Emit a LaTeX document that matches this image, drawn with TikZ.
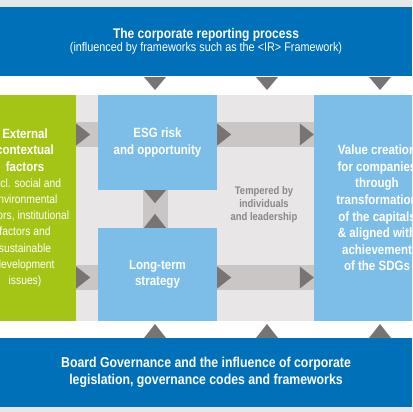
\documentclass[tikz,border=0pt]{standalone}
\usepackage{fontspec}
\setmainfont{Liberation Sans}[FakeStretch=0.86]
\usetikzlibrary{positioning}
\definecolor{irblau}{HTML}{0070B8}
\definecolor{hblau}{HTML}{7DBEE9}
\definecolor{gruen}{HTML}{A5C516}
\definecolor{hgrau}{HTML}{E8E6E6}
\definecolor{bandgrau}{HTML}{CAC6C6}
\definecolor{dgrau}{HTML}{787474}
\definecolor{tgrau}{HTML}{8C8888}
\tikzset{
  banner/.style={fill=irblau,text=white,minimum width=412pt,minimum height=69pt,inner sep=0pt,align=center},
  box/.style={fill=hblau,text=white,inner sep=0pt,align=center,font=\bfseries\fontsize{13.4}{16.6}\selectfont},
  band/.style={bandgrau,line width=25pt},
  tri/.style={fill=dgrau},
  trir/.pic={\fill[tri] (0,-11) -- (14,0) -- (0,11) -- cycle;},
  trid/.pic={\fill[tri] (-11,0) -- (11,0) -- (0,13) -- cycle;},
  triu/.pic={\fill[tri] (-11,0) -- (11,0) -- (0,-14) -- cycle;},
}

\begin{document}
\begin{tikzpicture}[x=1pt,y=-1pt]
  \clip (0,0) rectangle (412,412);
  \fill[hgrau] (0,0) rectangle (412,412);
  \fill[white] (0,7) rectangle (412,407);
  \fill[hgrau] (76,95) rectangle (412,321);
  % banners
  \node[banner] (report) at (206,41.5) {{\bfseries\fontsize{14}{16}\selectfont The corporate reporting process}\\
    \fontsize{12.6}{16}\selectfont (influenced by frameworks such as the <IR> Framework)};
  \node[banner,font=\bfseries\fontsize{14.3}{17}\selectfont] (board) at (206,372.5) {Board Governance and the influence of corporate\\legislation, governance codes and frameworks};
  % boxes
  \node[box,fill=gruen,minimum width=102pt,minimum height=226pt,font=\fontsize{12}{16.2}\selectfont] (ext) at (25,208)
    {\textbf{\fontsize{13.4}{16.2}\selectfont External}\\\textbf{\fontsize{13.4}{16.2}\selectfont contextual}\\\textbf{\fontsize{13.4}{16.2}\selectfont factors}\\
    (incl. social and\\environmental\\factors, institutional\\factors and\\sustainable\\development\\issues)};
  \node[box,minimum width=119pt,minimum height=95pt] (esg) at (157.5,142.5) {ESG risk\\and opportunity};
  \node[box,minimum width=119pt,minimum height=93pt] (strat) at (157.5,274.5) {Long-term\\strategy};
  \node[box,minimum width=126pt,minimum height=226pt] (value) at (377,208) {Value creation\\for companies\\through\\transformation\\of the capitals\\\& aligned with\\achievement\\of the SDGs};
  \node[font=\bfseries\fontsize{11}{13}\selectfont,text=tgrau,align=center] (temp) at (264,205) {Tempered by\\individuals\\and leadership};
  % bands
  \draw[band] ([yshift=8pt]esg.west -| ext.east) -- ([yshift=8pt]esg.west);
  \draw[band] ([yshift=8pt]esg.east) -- ([yshift=8pt]esg.east -| value.west);
  \draw[band] ([yshift=-3pt]strat.west -| ext.east) -- ([yshift=-3pt]strat.west);
  \draw[band] ([yshift=-3pt]strat.east) -- ([yshift=-3pt]strat.east -| value.west);
  \draw[band] ([xshift=-2.5pt]esg.south) -- ([xshift=-2.5pt]strat.north);
  % arrow heads
  \pic at ([yshift=8pt]esg.west -| ext.east) {trir};
  \pic at ([yshift=8pt]esg.east) {trir};
  \pic at ([xshift=-14pt,yshift=8pt]esg.east -| value.west) {trir};
  \pic at ([yshift=-3pt]strat.west -| ext.east) {trir};
  \pic at ([yshift=-3pt]strat.east) {trir};
  \pic at ([xshift=-14pt,yshift=-3pt]strat.east -| value.west) {trir};
  \pic at ([xshift=-2.5pt]esg.south) {trid};
  \pic at ([xshift=-2.5pt]strat.north) {triu};
  \foreach \x in {155,267,380} {
    \pic at (\x,77) {trid};
    \pic at (\x,338) {triu};
  }
\end{tikzpicture}
\end{document}
